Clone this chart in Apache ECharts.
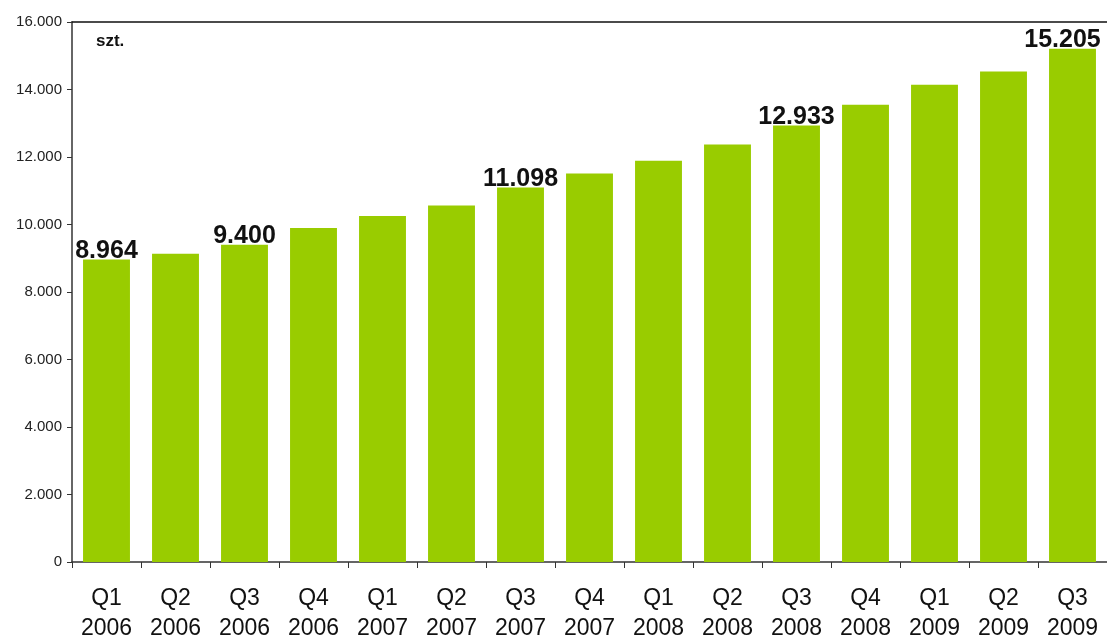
<!DOCTYPE html>
<html>
<head>
<meta charset="utf-8">
<script src="https://cdn.jsdelivr.net/npm/echarts@6/dist/echarts.min.js"></script>
<style>
  html, body { margin: 0; padding: 0; background: #fff; }
  #chart { width: 1107px; height: 635px; }
</style>
</head>
<body>
<div id="chart"></div>
<script>
// kwartały
const quarters = ['Q1', 'Q2', 'Q3', 'Q4', 'Q1', 'Q2', 'Q3', 'Q4', 'Q1', 'Q2', 'Q3', 'Q4', 'Q1', 'Q2', 'Q3']
const years = ['2006', '2006', '2006', '2006', '2007', '2007', '2007', '2007', '2008', '2008', '2008', '2008', '2009', '2009', '2009']
// liczba sztuk
const values = [8964, 9130, 9400, 9900, 10250, 10560, 11098, 11510, 11890, 12370, 12933, 13550, 14140, 14530, 15205]
// słupki z etykietą
const labelled = [0, 2, 6, 10, 14]

const fmt = v => String(v).replace(/\B(?=(\d{3})+(?!\d))/g, '.')

let chart = echarts.init(document.getElementById('chart'))
let option = {
  animation: false,
  textStyle: { fontFamily: 'Liberation Sans, Arial, sans-serif' },
  grid: { left: 72, right: 0, top: 22, bottom: 73, containLabel: false, outerBoundsMode: 'none' },
  graphic: [{
    type: 'text', left: 96, top: 33,
    style: { text: 'szt.', font: 'bold 17px Liberation Sans, Arial', fill: '#111' }
  }],
  xAxis: [
    {
      type: 'category',
      data: quarters.map((q, i) => q + '\n' + years[i]),
      axisLine: { lineStyle: { color: '#333', width: 1.5 } },
      axisTick: { show: true, length: 6, interval: 0, lineStyle: { color: '#333' } },
      axisLabel: { fontSize: 23, color: '#111', lineHeight: 30, margin: 22, interval: 0, hideOverlap: false }
    },
    {
      type: 'category',
      position: 'top',
      data: quarters,
      axisLine: { show: true, lineStyle: { color: '#111', width: 1.5 } },
      axisTick: { show: false },
      axisLabel: { show: false }
    }
  ],
  yAxis: {
    type: 'value',
    min: 0, max: 16000, interval: 2000,
    axisLine: { show: true, lineStyle: { color: '#333', width: 1.5 } },
    axisTick: { show: true, length: 5, lineStyle: { color: '#333' } },
    splitLine: { show: false },
    axisLabel: { fontSize: 15, color: '#222', margin: 10, formatter: v => fmt(v) }
  },
  series: [{
    type: 'bar',
    barWidth: '68%',
    itemStyle: { color: '#99cc00' },
    data: values.map((v, i) => ({
      value: v,
      label: {
        show: labelled.includes(i),
        position: 'top',
        distance: -4,
        offset: i === values.length - 1 ? [-10, 0] : [0, 0],
        formatter: p => fmt(p.value),
        fontSize: 25, fontWeight: 'bold', color: '#111'
      }
    }))
  }]
}
chart.setOption(option)
</script>
</body>
</html>
